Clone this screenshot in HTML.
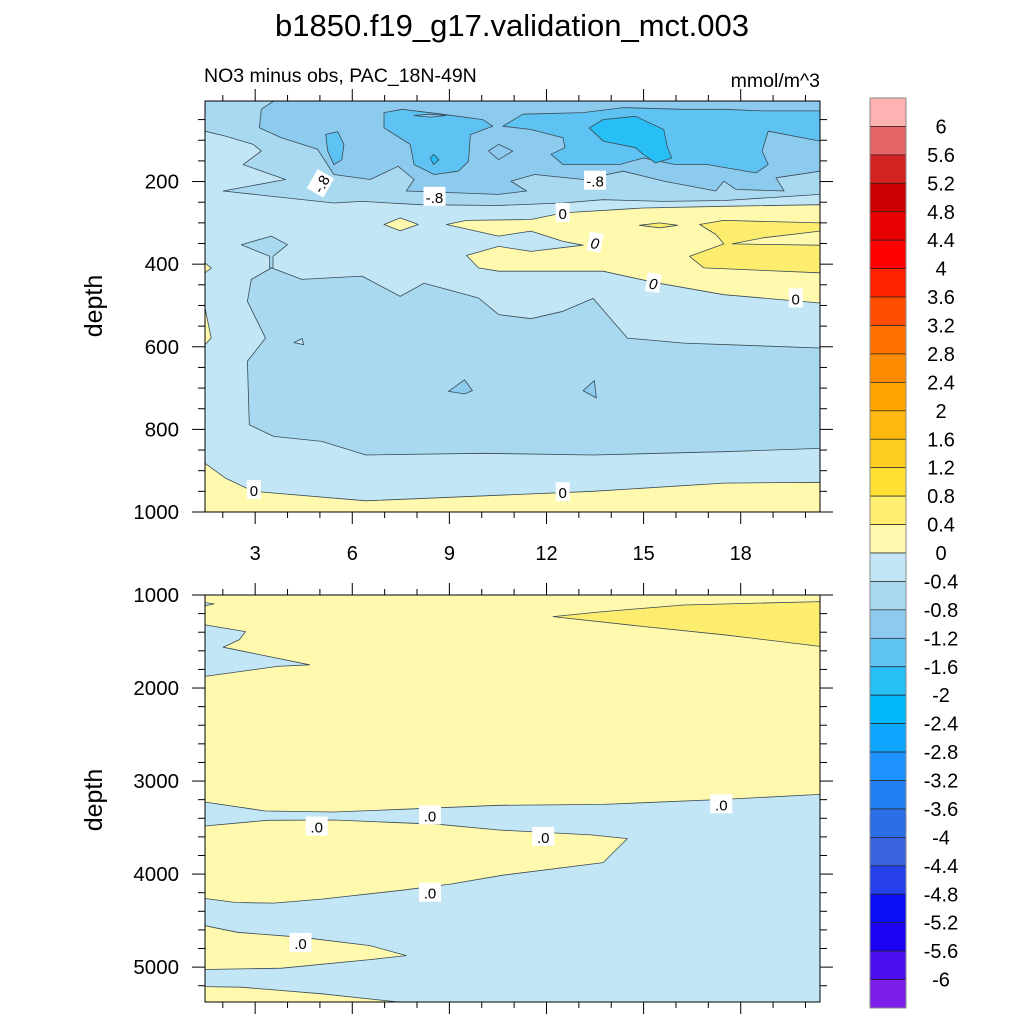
<!DOCTYPE html>
<html><head><meta charset="utf-8"><style>
html,body{margin:0;padding:0;background:#fff;}
svg{display:block;font-family:"Liberation Sans",sans-serif;}
</style></head><body>
<svg id="chart" width="1024" height="1024" viewBox="0 0 1024 1024" xmlns="http://www.w3.org/2000/svg">
<text x="512" y="36" font-size="31" text-anchor="middle">b1850.f19_g17.validation_mct.003</text>
<text x="204" y="82" font-size="19.5">NO3 minus obs, PAC_18N-49N</text>
<text x="820" y="87" font-size="19.5" text-anchor="end">mmol/m^3</text>
<text transform="translate(102,306) rotate(-90)" font-size="25" text-anchor="middle">depth</text>
<text transform="translate(102,800) rotate(-90)" font-size="25" text-anchor="middle">depth</text>
<g id="top"></g>
<g id="bot"></g>
<g id="cbar"></g>
</svg>
<script>
const NS="http://www.w3.org/2000/svg";
const levelLabels=["6","5.6","5.2","4.8","4.4","4","3.6","3.2","2.8","2.4","2","1.6","1.2","0.8","0.4","0","-0.4","-0.8","-1.2","-1.6","-2","-2.4","-2.8","-3.2","-3.6","-4","-4.4","-4.8","-5.2","-5.6","-6"];
const levelColors=["#ffb2b2","#e86565","#d42323","#cc0000","#e60000","#ff0000","#ff2200","#ff4d00","#ff7000","#ff8c00","#ffa300","#ffb80d","#ffcc22","#ffe033","#ffee70","#fff9ad","#c2e6f5","#a8d9f0","#8ccbee","#5ec3f2","#28bef6","#00b8fb","#0ea6ff","#1d92ff","#2280f2","#2c6ee8","#3c64e0","#2640ee","#0a10f5","#1c04f2","#4c0ef0","#7a1ee8"];
const xTicks=[3,6,9,12,15,18];
const topDepthTicks=[200,400,600,800,1000];
const botDepthTicks=[1000,2000,3000,4000,5000];
const C={y1:"#fff9ad",y2:"#fded6e",b1:"#c2e6f5",b2:"#a8d9f0",b3:"#8ccbee",b4:"#5ec3f2",b5:"#28bef6"};
const topRegions=[
["b1",[[1.45,5],[20.45,5],[20.45,1000],[1.45,1000]]],
["b2",[[1.45,5],[20.45,5],[20.45,231],[17.5,246],[15.6,248],[13.75,244],[12.5,252],[10.5,258],[8.1,256],[6.3,248],[5.43,252],[2.01,223],[3.94,195],[2.63,159],[3.19,126],[2.94,110],[2.08,90],[1.45,78]]],
["b3",[[3.57,5],[20.45,5],[20.45,175],[19.09,191],[19.34,223],[17.85,219],[17.48,199],[17.23,223],[15.62,199],[14.37,175],[13.13,195],[11.64,183],[10.9,199],[11.39,223],[10.52,231],[7.67,223],[7.91,195],[7.42,163],[6.55,195],[5.43,183],[4.93,122],[3.81,94],[3.13,70],[3.19,25]]],
["b4",[[5.18,86],[5.55,79],[5.74,110],[5.68,147],[5.43,159],[5.24,126]]],
["b4",[[6.98,33],[7.54,25],[8.78,37],[10.03,50],[10.34,66],[9.65,86],[9.59,151],[9.28,175],[8.53,183],[7.91,159],[7.79,110],[6.98,70]]],
["b4",[[10.65,66],[11.27,37],[13.13,33],[14.37,21],[16.24,25],[17.48,25],[18.72,29],[20.45,29],[20.45,102],[18.85,78],[18.66,126],[18.85,159],[18.47,179],[16.98,159],[15.99,159],[14.99,143],[14.25,159],[12.51,159],[12.14,134],[12.57,118],[12.51,94],[11.52,74]]],
["b3",[[10.21,126],[10.52,110],[10.96,126],[10.52,147]]],
["b3",[[7.9,40],[8.4,37],[8.9,40],[8.4,44]]],
["b5",[[13.32,70],[13.75,50],[14.75,42],[15.62,74],[15.74,118],[15.87,143],[15.37,155],[14.99,134],[14.75,118],[13.75,102]]],
["b5",[[8.41,143],[8.51,134],[8.68,147],[8.51,159]]],
["y1",[[8.91,304],[9.53,294],[11.52,292],[12.51,276],[14.99,264],[17.48,260],[20.45,256],[20.45,494],[17.48,474],[15.37,445],[13.75,417],[10.52,417],[9.9,409],[9.53,379],[10.52,357],[11.52,369],[13.13,354],[12.51,345],[11.52,320],[10.52,332]]],
["y1",[[6.98,304],[7.48,288],[8.04,304],[7.48,319]]],
["y2",[[14.87,306],[15.49,300],[16.05,306],[15.49,312]]],
["y2",[[16.73,304],[17.48,294],[20.45,300],[20.45,320],[18.72,336],[17.73,351],[20.45,354],[20.45,421],[16.86,409],[16.42,381],[17.48,351],[17.23,328]]],
["b2",[[3.5,409],[4.44,437],[6.3,429],[7.48,478],[8.22,446],[9.9,482],[10.52,522],[11.52,532],[12.51,514],[13.44,483],[14.5,579],[16.24,591],[20.45,603],[20.45,846],[17.48,854],[13.44,862],[10.03,858],[6.42,862],[5.06,829],[3.57,817],[2.82,789],[2.76,635],[3.32,579],[2.76,490],[2.88,437]]],
["b2",[[2.57,353],[3.5,332],[4.0,353],[3.55,381],[3.55,409],[3.45,409],[3.45,381]]],
["b1",[[4.2,590],[4.45,580],[4.5,595]]],
["b3",[[8.97,708],[9.47,680],[9.71,706],[9.47,714]]],
["b3",[[13.13,706],[13.48,682],[13.54,724]]],
["y1",[[1.45,882],[2.08,918],[2.94,950],[6.42,973],[13.44,950],[17.48,930],[20.45,928],[20.45,1000],[1.45,1000]]],
["y1",[[1.45,397],[1.64,409],[1.45,421]]],
["y1",[[1.45,506],[1.64,579],[1.45,595]]]
];
const botRegions=[
["y1",[[1.45,1000],[20.45,1000],[20.45,5375],[1.45,5375]]],
["b1",[[1.45,1321],[2.7,1393],[2.51,1482],[2.01,1561],[4.68,1750],[3.69,1768],[1.45,1875]]],
["b1",[[1.45,1082],[1.73,1096],[1.45,1117]]],
["y2",[[12.2,1232],[13.75,1178],[16.24,1107],[20.45,1071],[20.45,1553],[17.48,1428],[14.99,1339]]],
["b1",[[1.45,3226],[3.32,3322],[5.43,3333],[7.54,3304],[10.52,3261],[13.75,3251],[17.48,3197],[20.45,3143],[20.45,5375],[7.42,5375],[5.06,5287],[2.57,5216],[1.45,5209]]],
["y1",[[1.45,3483],[3.38,3422],[5.43,3419],[8.66,3465],[10.52,3526],[13.38,3579],[14.5,3619],[13.75,3876],[10.65,4012],[9.03,4108],[7.54,4173],[5.06,4269],[3.57,4312],[2.39,4305],[1.45,4262]]],
["y1",[[1.45,4555],[2.45,4626],[4.44,4680],[6.55,4769],[7.67,4876],[6.55,4919],[3.81,5012],[1.45,5026]]]
];
const topLabels=[[5.03,205,"-.8",-60],[8.54,237,"-.8",0],[13.5,198,"-.8",0],[12.5,276,"0",0],[13.5,348,"0",10],[15.3,446,"0",8],[19.7,483,"0",0],[2.96,947,"0",0],[12.5,952,"0",0]];
const botLabels=[[4.9,3490,".0",0],[8.4,3370,".0",0],[17.4,3250,".0",0],[11.9,3600,".0",0],[8.4,4200,".0",0],[4.4,4740,".0",0]];

function mk(tag,attrs,parent){const e=document.createElementNS(NS,tag);for(const k in attrs)e.setAttribute(k,attrs[k]);parent.appendChild(e);return e;}
function panel(g,L,T,R,B,d0,d1,regions,labels,dTicks,minorStep,showX,nm){
  const sx=x=>L+(x-1.45)/(20.45-1.45)*(R-L);
  const sy=d=>T+(d-d0)/(d1-d0)*(B-T);
  regions.forEach((r,i)=>{
    const p=mk("polygon",{points:r[1].map(q=>sx(q[0]).toFixed(1)+","+sy(Math.max(d0,Math.min(d1,q[1]))).toFixed(1)).join(" "),fill:C[r[0]],stroke:i===0?"none":"#3a4a55","stroke-width":"0.8","stroke-linejoin":"round"},g);
    
    
  });
  labels.forEach(l=>{
    const gg=mk("g",{transform:`translate(${sx(l[0])},${sy(l[1])}) rotate(${l[3]})`},g);
    
    
    const w=l[2].length>1?22:14;
    mk("rect",{x:-w/2,y:-10,width:w,height:19,fill:"#fff"},gg);
    mk("text",{x:0,y:6,"font-size":"15","text-anchor":"middle","font-style":l[2]==="0"&&l[3]!==0?"italic":"normal"},gg).textContent=l[2];
  });
  const fr=mk("rect",{x:L,y:T,width:R-L,height:B-T,fill:"none",stroke:"#000","stroke-width":"1"},g);
  
  
  for(let x=2;x<=20;x++){
    const maj=xTicks.includes(x);const len=maj?12:6;const px=sx(x);
    mk("line",{x1:px,x2:px,y1:T,y2:T-len,stroke:"#000","stroke-width":"1"},g);
    mk("line",{x1:px,x2:px,y1:B,y2:B+len,stroke:"#000","stroke-width":"1"},g);
  }
  if(showX) xTicks.forEach(x=>{const t=mk("text",{x:sx(x),y:B+48,"font-size":"20","text-anchor":"middle"},g);t.textContent=x;
    
    });
  for(let d=Math.ceil(d0/minorStep)*minorStep;d<=d1;d+=minorStep){
    const maj=dTicks.includes(d);const len=maj?13:7;const py=sy(d);
    mk("line",{x1:L,x2:L-len,y1:py,y2:py,stroke:"#000","stroke-width":"1"},g);
    mk("line",{x1:R,x2:R+len,y1:py,y2:py,stroke:"#000","stroke-width":"1"},g);
  }
  dTicks.forEach(d=>{const t=mk("text",{x:L-26,y:sy(d)+7,"font-size":"20.5","text-anchor":"end"},g);t.textContent=d;
    
    });
}
panel(document.getElementById("top"),205,101,820,512,5,1000,topRegions,topLabels,topDepthTicks,50,true,"top");
panel(document.getElementById("bot"),205,595,820,1002,1000,5375,botRegions,botLabels,botDepthTicks,200,false,"bottom");
const cb=document.getElementById("cbar");const cT=98,cB=1008,cL=870,cW=36;const h=(cB-cT)/levelColors.length;
levelColors.forEach((c,i)=>{const r=mk("rect",{x:cL,y:cT+i*h,width:cW,height:h,fill:c,stroke:"#222","stroke-width":"0.7"},cb);
  
  });
mk("rect",{x:cL,y:cT,width:cW,height:cB-cT,fill:"none",stroke:"#888","stroke-width":"1"},cb);
levelLabels.forEach((s,i)=>{const t=mk("text",{x:941,y:cT+(i+1)*h+7,"font-size":"20","text-anchor":"middle"},cb);t.textContent=s;
  
  });
</script>
</body></html>
